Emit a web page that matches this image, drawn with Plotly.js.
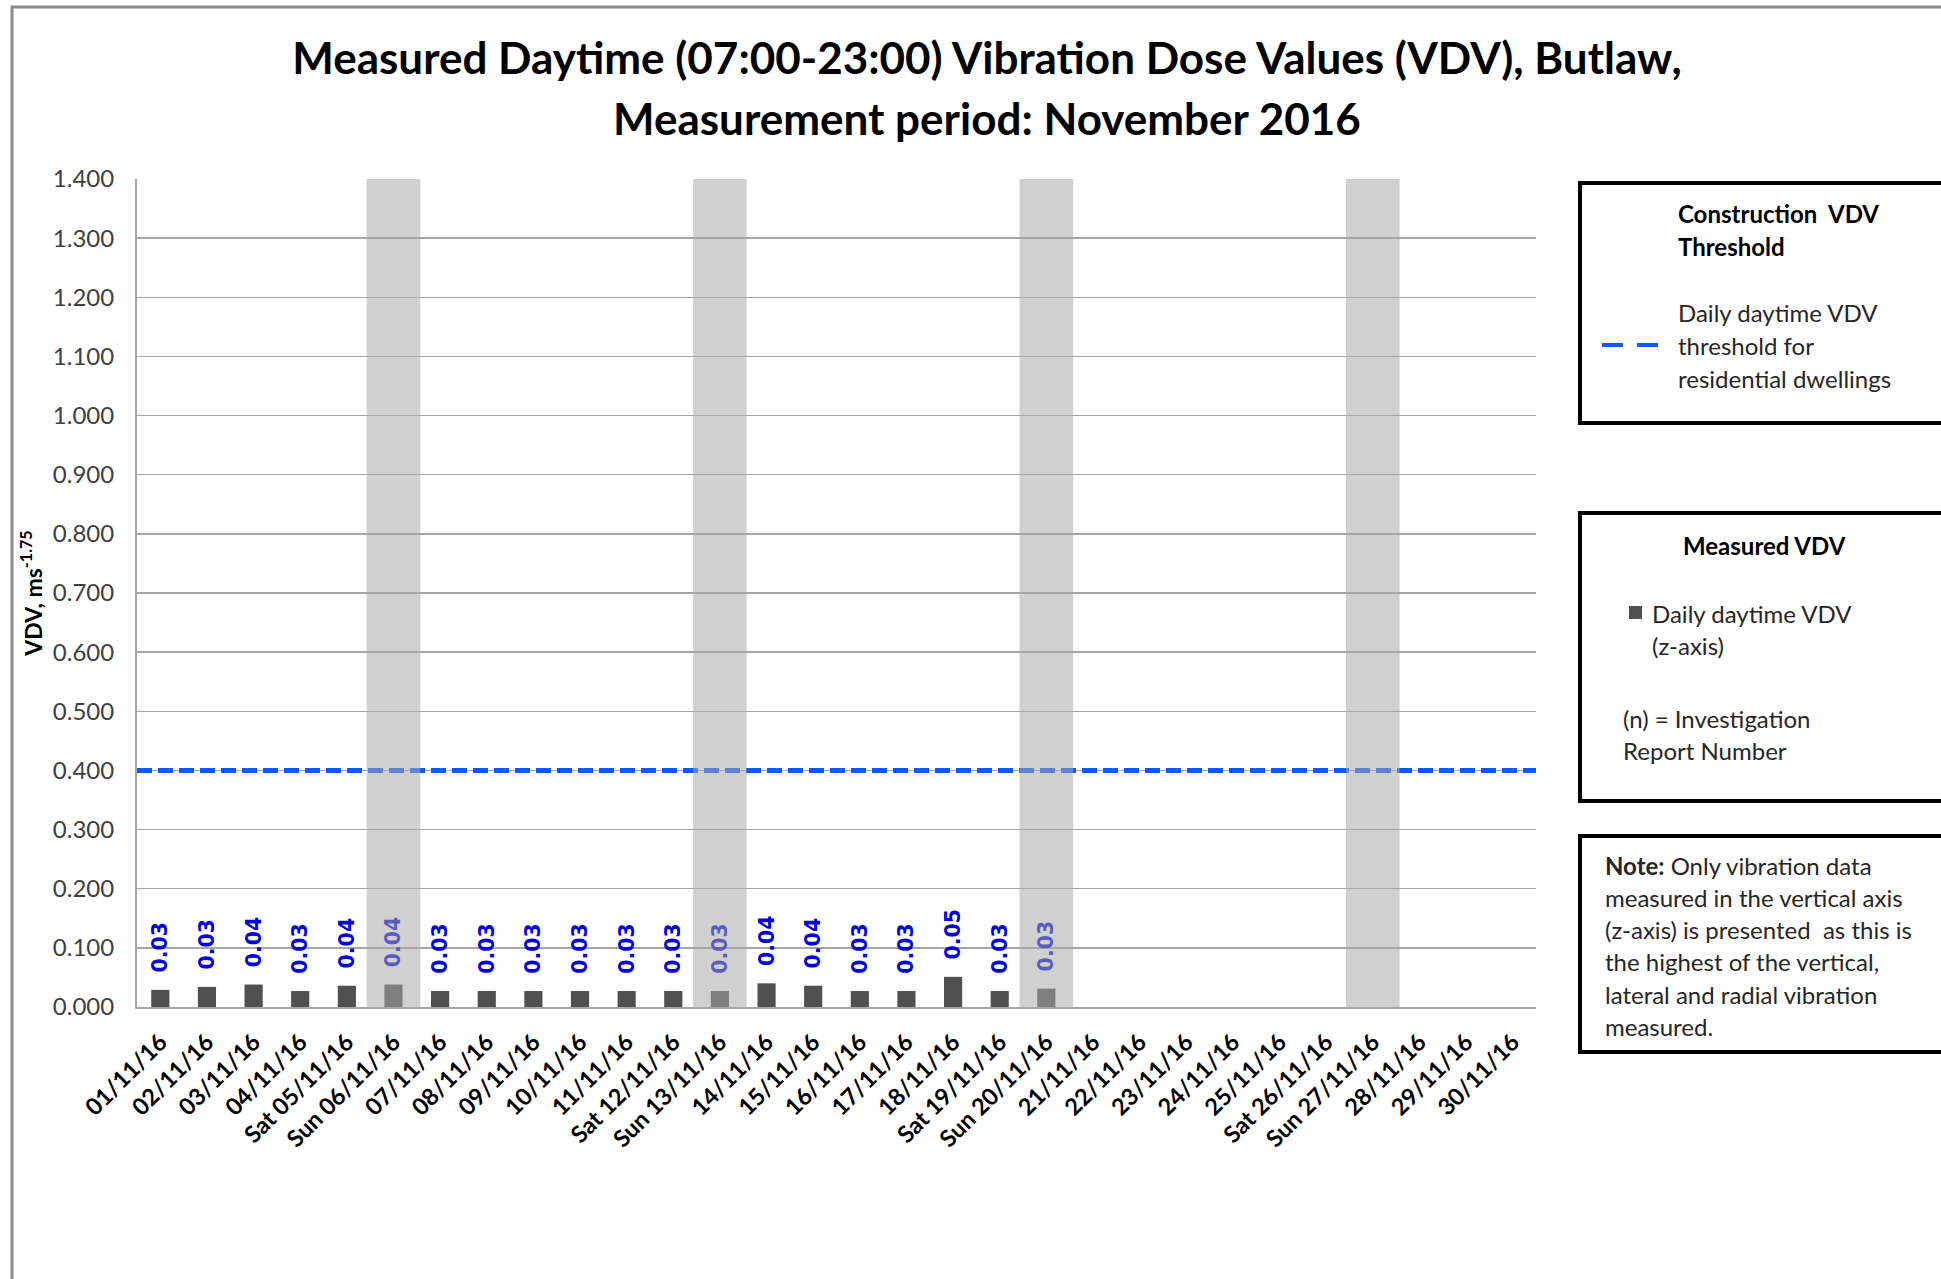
<!DOCTYPE html>
<html>
<head>
<meta charset="utf-8">
<script src="https://cdn.plot.ly/plotly-3.0.1.min.js"></script>
<style>html,body{margin:0;padding:0;background:#fff;}#chart{width:1941px;height:1279px;}</style>
</head>
<body>
<div id="chart"></div>
<script>
// ---- data ----
const categories = ['01/11/16','02/11/16','03/11/16','04/11/16','Sat 05/11/16','Sun 06/11/16','07/11/16','08/11/16','09/11/16','10/11/16','11/11/16','Sat 12/11/16','Sun 13/11/16','14/11/16','15/11/16','16/11/16','17/11/16','18/11/16','Sat 19/11/16','Sun 20/11/16','21/11/16','22/11/16','23/11/16','24/11/16','25/11/16','Sat 26/11/16','Sun 27/11/16','28/11/16','29/11/16','30/11/16'];
const dailyVDV = [0.029,0.034,0.038,0.027,0.036,0.038,0.027,0.027,0.027,0.027,0.027,0.027,0.027,0.040,0.036,0.027,0.027,0.051,0.027,0.031,null,null,null,null,null,null,null,null,null,null];
const sundayCategories = ['Sun 06/11/16','Sun 13/11/16','Sun 20/11/16','Sun 27/11/16'];
const sundayBand = [1.4,1.4,1.4,1.4];
const thresholdVDV = 0.4;
const yTickValues = [0,0.1,0.2,0.3,0.4,0.5,0.6,0.7,0.8,0.9,1.0,1.1,1.2,1.3,1.4];

const titleLine1 = 'Measured Daytime (07:00-23:00) Vibration Dose Values (VDV), Butlaw,';
const titleLine2 = 'Measurement period: November 2016';

// ---- geometry helpers (pixel -> paper) ----
const W = 1941, H = 1279;
const PL = 137, PR = 1536, PT = 179, PB = 1007;
const xp = px => (px - PL) / (PR - PL);
const yp = py => (PB - py) / (PB - PT);

const FONT = 'Lato, "Open Sans", sans-serif';
const LEG_SIZE = 24;

// threshold spans the whole category axis (edge to edge)
const catRange = [-0.5, categories.length - 0.5];
const thresholdX = catRange;
const thresholdY = catRange.map(() => thresholdVDV);

const traces = [
  {
    type: 'bar', x: categories, y: dailyVDV, width: 0.39,
    marker: {color: '#505050'},
    texttemplate: '\u00a0\u00a0%{y:.2f}', textposition: 'outside', textangle: -90,
    constraintext: 'none', cliponaxis: false,
    textfont: {family: '"DejaVu Sans", Verdana, sans-serif', size: 20.5, color: '#0000E0', weight: 'bold'},
    hoverinfo: 'x+y', showlegend: false
  },
  {
    type: 'scatter', mode: 'lines', x: thresholdX, y: thresholdY,
    xaxis: 'x2', yaxis: 'y2',
    line: {color: '#0a5aff', width: 5, dash: '15px,6px'},
    hoverinfo: 'skip', showlegend: false
  },
  {
    type: 'bar', x: sundayCategories, y: sundayBand, width: 1.15,
    xaxis: 'x3', yaxis: 'y3',
    marker: {color: 'rgb(168,168,168)', line: {width: 0}}, opacity: 0.54,
    hoverinfo: 'skip', showlegend: false
  }
];

const leg = (x, y, text, anchor, bold) => ({
  xref: 'paper', yref: 'paper', x: xp(x), y: yp(y), xanchor: anchor || 'left', yanchor: 'middle',
  text: bold ? '<b>' + text + '</b>' : text, showarrow: false,
  font: {family: FONT, size: LEG_SIZE, color: bold ? '#000' : '#262626'}
});

const annotations = [
  {xref: 'paper', yref: 'paper', x: xp(987), y: yp(118), xanchor: 'center', yanchor: 'middle',
   text: '<b>' + titleLine2 + '</b>', showarrow: false, font: {family: FONT, size: 44, color: '#000'}},
  // legend box 1
  leg(1676, 214, 'Construction  VDV', 'left', true),
  leg(1676, 246, 'Threshold', 'left', true),
  leg(1676, 312, 'Daily daytime VDV'),
  leg(1676, 345, 'threshold for'),
  leg(1676, 378, 'residential dwellings'),
  // legend box 2
  leg(1764, 545, 'Measured VDV', 'center', true),
  leg(1650, 613, 'Daily daytime VDV'),
  leg(1650, 645, '(z-axis)'),
  leg(1621, 718, '(n) = Investigation'),
  leg(1621, 750, 'Report Number')
];
const noteLines = ['<b>Note:</b> Only vibration data', 'measured in the vertical axis', '(z-axis) is presented  as this is', 'the highest of the vertical,', 'lateral and radial vibration', 'measured.'];
const noteY = [865, 897, 929, 961, 994, 1026];
noteLines.forEach((t, i) => annotations.push(leg(1603, noteY[i], t)));

const boxLine = {color: '#000', width: 4};
const shapes = [
  // outer chart frame
  {type: 'rect', xref: 'paper', yref: 'paper', x0: xp(12), x1: xp(1990), y0: yp(1320), y1: yp(7), line: {color: '#8c8c8c', width: 3}, fillcolor: 'rgba(0,0,0,0)'},
  // legend boxes
  {type: 'rect', xref: 'paper', yref: 'paper', x0: xp(1580), x1: xp(1990), y0: yp(423), y1: yp(183), line: boxLine, fillcolor: 'rgba(0,0,0,0)'},
  {type: 'rect', xref: 'paper', yref: 'paper', x0: xp(1580), x1: xp(1990), y0: yp(801), y1: yp(513), line: boxLine, fillcolor: 'rgba(0,0,0,0)'},
  {type: 'rect', xref: 'paper', yref: 'paper', x0: xp(1580), x1: xp(1990), y0: yp(1052), y1: yp(836), line: boxLine, fillcolor: 'rgba(0,0,0,0)'},
  // legend symbols
  {type: 'line', xref: 'paper', yref: 'paper', x0: xp(1602), x1: xp(1659), y0: yp(345), y1: yp(345), line: {color: '#0a5aff', width: 4, dash: '21px,14px'}},
  {type: 'rect', xref: 'paper', yref: 'paper', x0: xp(1629), x1: xp(1642), y0: yp(619), y1: yp(606), line: {width: 0}, fillcolor: '#505050'}
];

const layout = {
  width: W, height: H,
  paper_bgcolor: '#fff', plot_bgcolor: '#fff',
  margin: {l: PL, r: W - PR, t: PT, b: H - PB, pad: 0},
  title: {text: '<b>' + titleLine1 + '</b>', xref: 'container', yref: 'container', x: 987 / W, y: 1 - 59 / H,
          xanchor: 'center', yanchor: 'middle', font: {family: FONT, size: 44, color: '#000'}},
  barmode: 'overlay',
  xaxis: {type: 'category', categoryorder: 'array', categoryarray: categories, range: catRange,
          tickangle: -45, ticks: '', showgrid: false, showline: true, linecolor: '#a6a6a6', linewidth: 2,
          ticklabelstandoff: 10,
          tickfont: {family: FONT, size: 23.5, color: '#000', weight: 'bold'}, fixedrange: true},
  yaxis: {range: [0, 1.4], tickvals: yTickValues, tickformat: '.3f', ticks: '', showgrid: true,
          gridcolor: '#a6a6a6', gridwidth: 1.5, showline: true, linecolor: '#a6a6a6', linewidth: 2, zeroline: false,
          tickfont: {family: FONT, size: 24, color: '#404040'}, ticklabelstandoff: 16,
          title: {text: '<b>VDV, ms<sup>-1.75</sup></b>', font: {family: FONT, size: 23, color: '#000'}, standoff: 4}},
  xaxis2: {type: 'linear', range: catRange, overlaying: 'x', visible: false, fixedrange: true},
  yaxis2: {range: [0, 1.4], overlaying: 'y', visible: false, fixedrange: true},
  xaxis3: {type: 'category', categoryorder: 'array', categoryarray: categories, range: catRange,
           overlaying: 'x', visible: false, fixedrange: true},
  yaxis3: {range: [0, 1.4], overlaying: 'y', visible: false, fixedrange: true},
  annotations: annotations,
  shapes: shapes,
  showlegend: false
};

Plotly.newPlot('chart', traces, layout, {displayModeBar: false, staticPlot: true});
</script>
</body>
</html>
